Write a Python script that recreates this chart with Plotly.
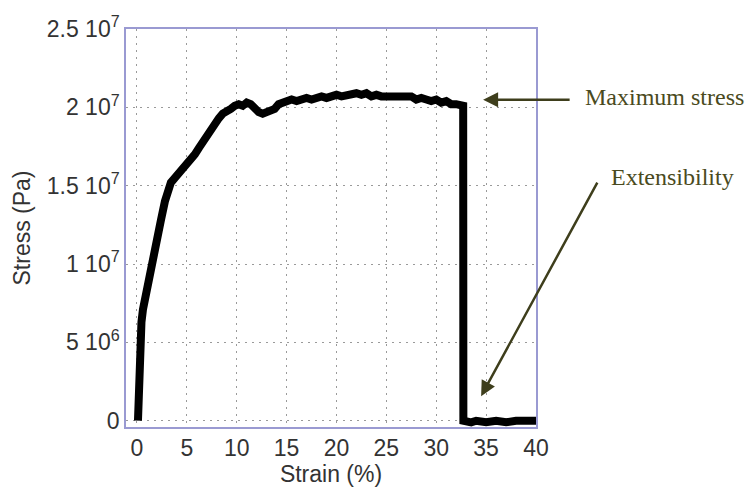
import numpy as np
import plotly.graph_objects as go

# Strain (%) and stress (units of 1e7 Pa)
strain = [0.1, 0.15, 0.2, 0.3, 0.45, 0.6, 0.8, 1.0, 1.3, 1.6, 2.0, 2.4, 2.8, 3.1,
          3.4, 3.8, 4.2, 4.6, 5.0, 5.4, 5.8, 6.2, 6.6, 7.0, 7.4, 7.8, 8.2, 8.6,
          9.0, 9.4, 9.8, 10.2, 10.6, 11.0, 11.4, 11.8, 12.2, 12.6, 13.0, 13.4,
          13.8, 14.2, 14.6, 15.0, 15.5, 16.0, 16.5, 17.0, 17.5, 18.0, 18.5,
          19.0, 19.5, 20.0, 20.5, 21.0, 21.5, 22.0, 22.5, 23.0, 23.5, 24.0,
          24.5, 25.0, 25.5, 26.0, 26.5, 27.0, 27.5, 28.0, 28.5, 29.0, 29.5,
          30.0, 30.5, 31.0, 31.5, 32.0, 32.6, 32.7, 32.72, 33.5, 34.0, 35.0,
          36.0, 37.0, 38.0, 39.0, 40.0]
stress_e7 = [0.0, 0.2, 0.38, 0.52, 0.63, 0.71, 0.78, 0.85, 0.94, 1.02, 1.15, 1.28,
             1.4, 1.48, 1.52, 1.55, 1.58, 1.6, 1.64, 1.66, 1.7, 1.74, 1.78, 1.83,
             1.87, 1.9, 1.93, 1.96, 1.97, 1.99, 2.01, 2.02, 2.01, 2.03, 2.02,
             1.99, 1.97, 1.96, 1.97, 1.98, 1.99, 2.02, 2.03, 2.04, 2.05, 2.04,
             2.05, 2.06, 2.05, 2.06, 2.07, 2.06, 2.07, 2.08, 2.07, 2.08, 2.09,
             2.09, 2.08, 2.09, 2.07, 2.08, 2.07, 2.07, 2.06, 2.07, 2.06, 2.06,
             2.07, 2.05, 2.06, 2.05, 2.04, 2.05, 2.03, 2.04, 2.02, 2.02, 2.01,
             2.01, 0.0, -0.01, 0.0, -0.01, 0.0, -0.01, 0.0, -0.005, 0.0]

x_ticks = [0, 5, 10, 15, 20, 25, 30, 35, 40]
y_tick_vals = [0, 5e6, 1e7, 1.5e7, 2e7, 2.5e7]
y_tick_text = ["0", "5 10<sup>6</sup>", "1 10<sup>7</sup>", "1.5 10<sup>7</sup>",
               "2 10<sup>7</sup>", "2.5 10<sup>7</sup>"]

stress = np.array(stress_e7) * 1e7

fig = go.Figure()
fig.add_trace(go.Scatter(x=strain, y=stress, mode="lines",
                         line=dict(color="black", width=8), showlegend=False,
                         cliponaxis=False))

sans = "Liberation Sans, Arial, sans-serif"
serif = "Liberation Serif, Times New Roman, serif"
olive = "#4a4a20"
arrow_col = "#3e3e1c"

fig.add_annotation(x=34.7, y=2.048e7, xref="x", yref="y", ax=88, ay=0,
                   showarrow=True, arrowhead=2, arrowsize=1.2, arrowwidth=2.5,
                   arrowcolor=arrow_col, text="")
fig.add_annotation(x=1.115, y=0.828, xref="paper", yref="paper", xanchor="left",
                   yanchor="middle", showarrow=False, text="Maximum stress",
                   font=dict(family=serif, size=24, color=olive))
fig.add_annotation(x=34.5, y=1.57e6, xref="x", yref="y", ax=117, ay=-215,
                   showarrow=True, arrowhead=2, arrowsize=1.2, arrowwidth=2.5,
                   arrowcolor=arrow_col, text="")
fig.add_annotation(x=1.178, y=0.628, xref="paper", yref="paper", xanchor="left",
                   yanchor="middle", showarrow=False, text="Extensibility",
                   font=dict(family=serif, size=24, color=olive))

fig.update_layout(
    width=750, height=493,
    margin=dict(l=126, r=214, t=24, b=65),
    paper_bgcolor="white", plot_bgcolor="white",
    font=dict(family=sans, size=23, color="#333"),
)
fig.update_xaxes(range=[-1.1, 40], tickvals=x_ticks, showgrid=True,
                 gridcolor="#9a9a9a", griddash="2px,5px", gridwidth=1,
                 showline=True, mirror=True, linecolor="#9a9ad2", linewidth=1.5,
                 zeroline=False, ticks="",
                 title=dict(text="Strain (%)", standoff=4,
                            font=dict(family=sans, size=23, color="#333")))
fig.update_yaxes(range=[-0.4e6, 2.5e7], tickvals=y_tick_vals, ticktext=y_tick_text,
                 showgrid=True, gridcolor="#9a9a9a", griddash="2px,5px", gridwidth=1,
                 showline=True, mirror=True, linecolor="#9a9ad2", linewidth=1.5,
                 zeroline=False, ticks="",
                 title=dict(text="Stress (Pa)", standoff=10,
                            font=dict(family=sans, size=23, color="#333")))

fig.write_html("out.html")
